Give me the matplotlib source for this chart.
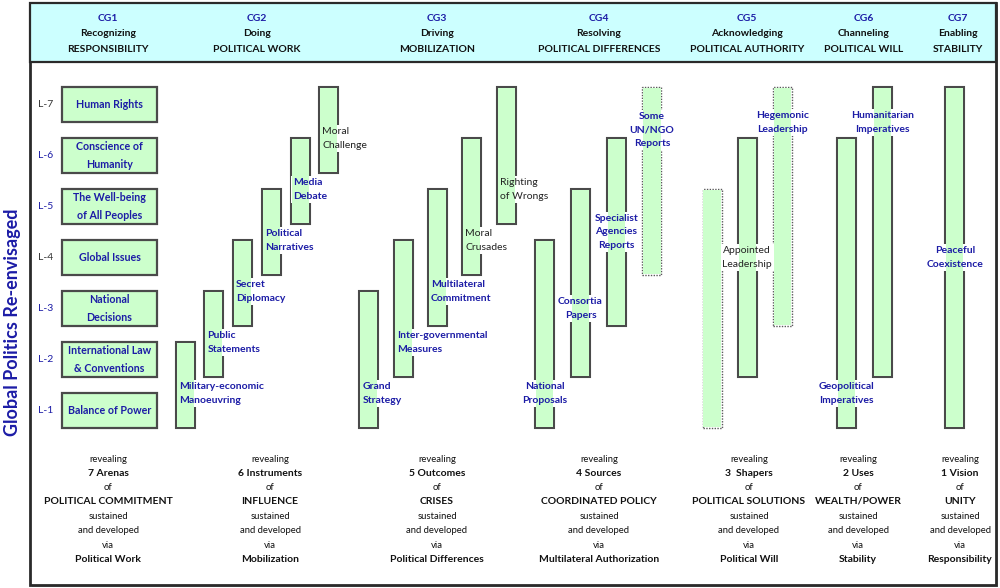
import matplotlib
matplotlib.use('Agg')
import matplotlib.pyplot as plt
import matplotlib.transforms as mtransforms
from matplotlib.patches import Rectangle

plt.rcParams['font.family'] = ['Lato', 'DejaVu Sans']

# ---- data -------------------------------------------------------------
group_ids = ['CG1', 'CG2', 'CG3', 'CG4', 'CG5', 'CG6', 'CG7']
group_verbs = ['Recognizing', 'Doing', 'Driving', 'Resolving',
               'Acknowledging', 'Channeling', 'Enabling']
group_objects = ['RESPONSIBILITY', 'POLITICAL WORK', 'MOBILIZATION',
                 'POLITICAL DIFFERENCES', 'POLITICAL AUTHORITY',
                 'POLITICAL WILL', 'STABILITY']

levels = [1, 2, 3, 4, 5, 6, 7]
level_labels = ['L-1', 'L-2', 'L-3', 'L-4', 'L-5', 'L-6', 'L-7']
arenas = ['Balance of Power', 'International Law\n& Conventions',
          'National\nDecisions', 'Global Issues',
          'The Well-being\nof All Peoples', 'Conscience of\nHumanity',
          'Human Rights']

# bars of groups CG2..CG7 : names, lowest level, highest level, dotted outline
bar_names = [
    ['Military-economic\nManoeuvring', 'Public\nStatements', 'Secret\nDiplomacy',
     'Political\nNarratives', 'Media\nDebate', 'Moral\nChallenge'],
    ['Grand\nStrategy', 'Inter-governmental\nMeasures', 'Multilateral\nCommitment',
     'Moral\nCrusades', 'Righting\nof Wrongs'],
    ['National\nProposals', 'Consortia\nPapers', 'Specialist\nAgencies\nReports',
     'Some\nUN/NGO\nReports'],
    ['', 'Appointed\nLeadership', 'Hegemonic\nLeadership'],
    ['Geopolitical\nImperatives', 'Humanitarian\nImperatives'],
    ['Peaceful\nCoexistence'],
]
bar_low = [[1, 2, 3, 4, 5, 6], [1, 2, 3, 4, 5], [1, 2, 3, 4], [1, 2, 3], [1, 2], [1]]
bar_high = [[2, 3, 4, 5, 6, 7], [3, 4, 5, 6, 7], [4, 5, 6, 7], [5, 6, 7], [6, 7], [7]]
bar_dotted = [[False] * 6, [False] * 5, [False, False, False, True],
              [True, False, True], [False, False], [False]]
plain_labels = ['Moral\nChallenge', 'Moral\nCrusades', 'Righting\nof Wrongs',
                'Appointed\nLeadership']

footer_counts = ['7 Arenas', '6 Instruments', '5 Outcomes', '4 Sources',
                 '3  Shapers', '2 Uses', '1 Vision']
footer_subjects = ['POLITICAL COMMITMENT', 'INFLUENCE', 'CRISES',
                   'COORDINATED POLICY', 'POLITICAL SOLUTIONS',
                   'WEALTH/POWER', 'UNITY']
footer_via = ['Political Work', 'Mobilization', 'Political Differences',
              'Multilateral Authorization', 'Political Will', 'Stability',
              'Responsibility']

# ---- layout -----------------------------------------------------------
W, H = 1000, 588
BLUE = '#1c1ca6'
GREEN = '#ccffcc'
EDGE = '#4a4a4a'
PX_LEVEL = 51             # pixels per level
HALF = 17.5 / PX_LEVEL    # half height of a level box, in level units
INSET = 1.0               # px kept free for the outline when filling

header_x = [108, 257, 437, 599, 747, 864, 958]
footer_x = [108, 270, 437, 599, 749, 858, 960]
bar_x0 = [185.2, 368.8, 544.8, 712.0, 846.7, 954.8]
bar_dx = [28.7, 34.35, 35.7, 35.2, 35.5, 0]
bar_w = 19
# label placement: 'left' -> left aligned at bar, level low+0.34 ; number -> centered at that level
label_pos = [
    ['left'] * 6,
    ['left'] * 5,
    [1.34, 3.0, 4.5, 6.5],
    [None, 4.0, 6.64],
    [1.34, 6.64],
    [4.0],
]

fig = plt.figure(figsize=(10, 5.88), dpi=100)
ax = fig.add_axes([0, 0, 1, 1])
ax.set_xlim(0, W)
ax.set_ylim((461.5 - H) / PX_LEVEL, 461.5 / PX_LEVEL)
ax.axis('off')

# pixel transform for the frame, header and footer
pxT = mtransforms.Affine2D().scale(1 / W, -1 / H).translate(0, 1) + fig.transFigure

# frame (with a faint shadow) and header band
ax.add_patch(Rectangle((32, 5), 966, 582, transform=pxT, facecolor='#bbbbbb',
                       edgecolor='none', zorder=0, clip_on=False))
ax.add_patch(Rectangle((30, 3), 966, 582, transform=pxT, facecolor='white',
                       edgecolor='#2a2a2a', lw=2.0, zorder=0.2, clip_on=False))
ax.add_patch(Rectangle((30, 3), 966, 59, transform=pxT, facecolor='#ccffff',
                       edgecolor='#2a2a2a', lw=1.6, zorder=0.5, clip_on=False))

for gx, gid, verb, obj in zip(header_x, group_ids, group_verbs, group_objects):
    ax.text(gx, 18.5, gid, transform=pxT, ha='center', va='center',
            color=BLUE, fontsize=7.5, fontweight='bold')
    ax.text(gx, 34, verb, transform=pxT, ha='center', va='center',
            color='#111111', fontsize=7.5, fontweight='bold')
    ax.text(gx, 49.5, obj, transform=pxT, ha='center', va='center',
            color='#111111', fontsize=7.5, fontweight='bold')

# footer
for fx, cnt, subj, via in zip(footer_x, footer_counts, footer_subjects, footer_via):
    rows = [('revealing', 'normal', 6.8), (cnt, 'bold', 7.5), ('of', 'normal', 6.8),
            (subj, 'bold', 7.5), ('sustained', 'normal', 6.8),
            ('and developed', 'normal', 6.8), ('via', 'normal', 6.8), (via, 'bold', 7.5)]
    ys = [460, 473.5, 487.5, 501.5, 516.5, 530.5, 545, 559.5]
    for (txt, wt, fs), yy in zip(rows, ys):
        ax.text(fx, yy, txt, transform=pxT, ha='center', va='center',
                color='#111111', fontsize=fs, fontweight=wt)

# y title
ax.text(13, 322, 'Global Politics Re-envisaged', transform=pxT, rotation=90,
        ha='center', va='center', color=BLUE, fontsize=13, fontweight='bold')

# level labels
level_colors = [BLUE, BLUE, BLUE, '#333333', BLUE, BLUE, '#333333']
for lv, lab, col in zip(levels, level_labels, level_colors):
    ax.text(46, lv, lab, ha='center', va='center', fontsize=7.5, color=col)

# CG1 arena boxes
ax.bar(109.5, 2 * HALF, bottom=[lv - HALF for lv in levels], width=95,
       color=GREEN, edgecolor=EDGE, linewidth=1.6, zorder=2)
for lv, name in zip(levels, arenas):
    ax.text(109.5, lv, name, ha='center', va='center', fontsize=7.7,
            color=BLUE, fontweight='bold', linespacing=1.7, zorder=5)

# bars of the other groups
for g in range(len(bar_names)):
    for i, name in enumerate(bar_names[g]):
        xc = bar_x0[g] + i * bar_dx[g]
        lo, hi = bar_low[g][i], bar_high[g][i]
        dotted = bar_dotted[g][i]
        bottom = lo - HALF
        height = hi - lo + 2 * HALF
        # outline first
        ax.bar(xc, height, bottom=bottom, width=bar_w, fill=False,
               edgecolor='#5a5a5a' if dotted else EDGE,
               linestyle=(0, (1.0, 1.0)) if dotted else '-',
               linewidth=1.0 if dotted else 1.5, zorder=2)
        if name:
            pos = label_pos[g][i]
            if pos == 'left':
                tx, ty, ha = xc - bar_w / 2 + 3, lo + 0.34, 'left'
            else:
                tx, ty, ha = xc, pos, 'center'
            plain = name in plain_labels
            kw = dict(ha=ha, va='center', fontsize=7.5, linespacing=1.7,
                      fontweight='normal' if plain else 'bold')
            # white knock-out behind the label breaks the outline
            ax.text(tx, ty, name, color=(0, 0, 0, 0), zorder=3,
                    bbox=dict(facecolor='white', edgecolor='none', pad=1.5), **kw)
            ax.text(tx, ty, name, color='#222222' if plain else BLUE, zorder=5, **kw)
        # fill on top of the knock-out, leaving the outline visible
        ins = (0.8 if dotted else INSET)
        ax.bar(xc, height - 2 * ins / PX_LEVEL, bottom=bottom + ins / PX_LEVEL,
               width=bar_w - 2 * ins, color=GREEN, edgecolor='none', zorder=4)

fig.savefig('out.png', dpi=100)
